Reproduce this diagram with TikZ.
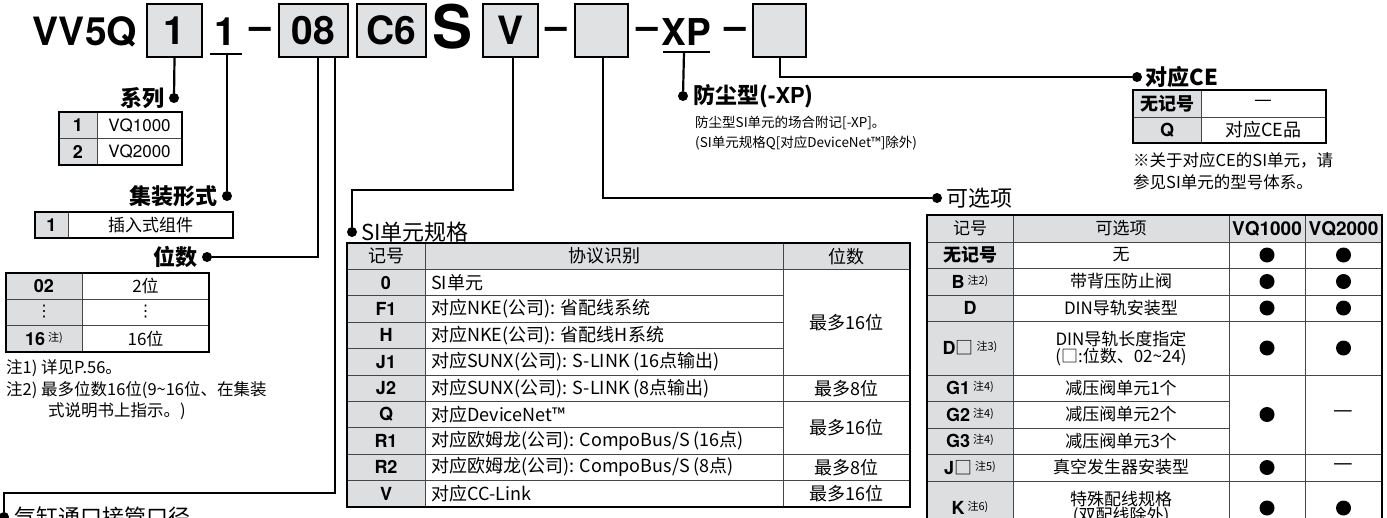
\documentclass[tikz,border=0pt]{standalone}
\usepackage{fontspec}
\setmainfont{Noto Sans CJK SC}
\newfontfamily\heros{TeX Gyre Heros}
\newfontfamily\dejavu{DejaVu Sans}
\usetikzlibrary{calc,positioning}
\definecolor{boxgray}{RGB}{224,225,227}
\definecolor{cellgray}{RGB}{221,222,224}
\definecolor{rulegray}{RGB}{70,70,70}
\newcommand{\fs}[1]{\fontsize{#1}{#1}\selectfont}
\newcommand{\note}[1]{\raisebox{4pt}{\normalfont\fs{11}#1}}

\begin{document}
\begin{tikzpicture}[x=1pt, y=-1pt,
    codebox/.style={draw=black, line width=2pt, fill=boxgray, minimum height=53, inner sep=0, font=\heros\bfseries\fs{39}},
    codetext/.style={inner sep=0, font=\heros\bfseries\fs{39}},
    title/.style={inner sep=0, font=\bfseries\fs{22}},
    link/.style={line width=2.2pt},
    dot/.style={circle, fill=black, inner sep=0, minimum size=10},
    cell/.style={inner sep=0, font=\fs{17}},
    codecell/.style={inner sep=0, font=\heros\bfseries\fs{18}},
    rule/.style={draw=rulegray, line width=1pt},
    frame/.style={draw=black, line width=1.6pt},
    bullet/.style={circle, fill=black, inner sep=0, minimum size=15},
    notetext/.style={inner sep=0, anchor=west, font=\fs{16.5}}]

    \useasboundingbox (0,0) rectangle (1387,517);

    % 型号代码一行
    \node[codetext] (vv5q) at (85,32) {VV5Q};
    \node[codebox, minimum width=55] (b1) at (174.5,30.5) {1};
    \node[codetext] (u1) at (225,32) {1};
    \node[codetext] (m1) at (260,33) {–};
    \node[codebox, minimum width=69] (b08) at (313.5,30.5) {08};
    \node[codebox, minimum width=69] (bC6) at (391.5,30.5) {C6};
    \node[codetext, font=\heros\bfseries\fs{60}] (sS) at (452.5,27) {S};
    \node[codebox, minimum width=55] (bV) at (510.5,30.5) {V};
    \node[codetext] (m2) at (556.5,33) {–};
    \node[codebox, minimum width=53] (bOpt) at (601.5,30.5) {};
    \node[codetext] (m3) at (647,33) {–};
    \node[codetext, font=\heros\bfseries\fs{37}] (xp) at (686.5,32) {XP};
    \node[codetext] (m4) at (735,33) {–};
    \node[codebox, minimum width=53] (bCE) at (779.5,30.5) {};

    % 下划线
    \coordinate (u1a) at (210,54);
    \coordinate (u1b) at (242,54);
    \coordinate (u1m) at (227,54);
    \draw[link] (u1a) -- (u1b);
    \coordinate (xpa) at (663,52);
    \coordinate (xpb) at (710,52);
    \coordinate (xpm) at (684,52);
    \draw[link] (xpa) -- (xpb);

    % 引出点与标题
    \node[dot] (dSeries) at (174,98) {};
    \node[title, left=4pt of dSeries] (tSeries) {系列};
    \node[dot] (dMani) at (227,196) {};
    \node[title, left=4pt of dMani] (tMani) {集装形式};
    \node[dot] (dStat) at (207,257) {};
    \node[title, left=4pt of dStat] (tStat) {位数};
    \node[dot] (dPort) at (4,517) {};
    \node[title, font=\fs{22}, right=5pt of dPort] (tPort) {气缸通口接管口径};
    \node[dot] (dSI) at (352,232) {};
    \node[title, font=\fs{22}, right=4pt of dSI] (tSI) {SI单元规格};
    \node[dot] (dXP) at (683,96) {};
    \node[title, right=5pt of dXP] (tXP) {防尘型({\heros -XP})};
    \node[dot] (dOpt) at (937,198) {};
    \node[title, font=\fs{22}, right=4pt of dOpt] (tOpt) {可选项};
    \node[dot] (dCE) at (1137,77) {};
    \node[title, right=3pt of dCE] (tCE) {对应CE};

    % 引出线
    \coordinate (cPort) at (4,493);
    \coordinate (cSI) at (352,190);
    \draw[link] (b1.south) -- (dSeries);
    \draw[link] (u1m) -- (dMani);
    \draw[link] ([xshift=4.5pt]b08.south) |- (dStat);
    \draw[link] ([xshift=21.5pt]b08.south) |- (cPort) -- (dPort);
    \draw[link] ([xshift=2.5pt]bV.south) |- (cSI) -- (dSI);
    \draw[link] ([xshift=1.5pt]bOpt.south) |- (dOpt);
    \draw[link] (xpm) -- (dXP);
    \draw[link] ([xshift=0.5pt]bCE.south) |- (dCE);

    % 防尘型说明
    \node[notetext, font=\fs{13.5}] (nx1) at (695,123) {防尘型SI单元的场合附记[-XP]。};
    \node[notetext, font=\fs{13.5}] (nx2) at (695,143) {(SI单元规格Q[对应DeviceNet™]除外)};

    % 系列
    \fill[cellgray] (59,112) rectangle (97,165);
    \draw[rule] (59,138) -- (182,138);
    \draw[rule] (97,112) -- (97,165);
    \draw[frame] (59,112) rectangle (182,165);
    \foreach \c/\t [count=\i] in {1/VQ1000, 2/VQ2000} {
        \node[codecell] (se-\i) at (78,{112+26.5*(\i-0.5)}) {\c};
        \node[cell, font=\heros\fs{17}] (set-\i) at (139.5,{112+26.5*(\i-0.5)}) {\t};
    }

    % 集装形式
    \fill[cellgray] (35,212) rectangle (68,238);
    \draw[rule] (68,212) -- (68,238);
    \draw[frame] (35,212) rectangle (233,238);
    \node[codecell] (ma-1) at (51.5,225) {1};
    \node[cell] (mat-1) at (150.5,225) {插入式组件};

    % 位数
    \fill[cellgray] (6,273) rectangle (82,352);
    \draw[rule] (6,299) -- (209,299);
    \draw[rule] (6,325) -- (209,325);
    \draw[rule] (82,273) -- (82,352);
    \draw[frame] (6,273) rectangle (209,352);
    \node[codecell] (st-1) at (44,286) {02};
    \node[cell] (stt-1) at (145.5,286) {2位};
    \node[cell, font=\dejavu\fs{16}] (st-2) at (44,312) {⋮};
    \node[cell, font=\dejavu\fs{16}] (stt-2) at (145.5,312) {⋮};
    \node[codecell] (st-3) at (44,338.5) {16\,\note{注)}};
    \node[cell] (stt-3) at (145.5,338.5) {16位};

    % 注
    \node[notetext] (n1) at (6,368) {注1) 详见P.56。};
    \node[notetext] (n2) at (6,390) {注2) 最多位数16位(9\textasciitilde16位、在集装};
    \node[notetext] (n3) at (48,411) {式说明书上指示。)};

    % SI单元规格
    \def\siRow{26.4}
    \fill[cellgray] (347,243) rectangle (910,{243+\siRow});
    \fill[cellgray] (347,243) rectangle (425,507);
    \foreach \i in {1,...,9}
        \draw[rule] (347,{243+\siRow*\i}) -- (783,{243+\siRow*\i});
    \foreach \i in {1,5,6,8,9}
        \draw[rule] (783,{243+\siRow*\i}) -- (910,{243+\siRow*\i});
    \draw[rule] (425,243) -- (425,507);
    \draw[rule] (783,243) -- (783,507);
    \draw[frame] (347,243) rectangle (910,507);
    \node[cell, font=\fs{18}] (sih-1) at (386,{243+\siRow/2}) {记号};
    \node[cell, font=\fs{18}] (sih-2) at (604,{243+\siRow/2}) {协议识别};
    \node[cell, font=\fs{18}] (sih-3) at (846.5,{243+\siRow/2}) {位数};
    \foreach \c/\t [count=\i] in {0/SI单元, F1/{对应NKE(公司): 省配线系统}, H/{对应NKE(公司): 省配线H系统},
        J1/{对应SUNX(公司): S-LINK (16点输出)}, J2/{对应SUNX(公司): S-LINK (8点输出)}, Q/对应DeviceNet™,
        R1/{对应欧姆龙(公司): CompoBus/S (16点)}, R2/{对应欧姆龙(公司): CompoBus/S (8点)}, V/对应CC-Link} {
        \node[codecell] (si-\i) at (386,{243+\siRow*(\i+0.5)}) {\c};
        \node[cell, font=\fs{18}, anchor=west] (sit-\i) at (431,{243+\siRow*(\i+0.5)}) {\t};
    }
    \foreach \r/\t [count=\i] in {3/最多16位, 5.5/最多8位, 7/最多16位, 8.5/最多8位, 9.5/最多16位}
        \node[cell, font=\fs{18}] (sin-\i) at (846.5,{243+\siRow*\r}) {\t};

    % 对应CE
    \fill[cellgray] (1133,90) rectangle (1201,143);
    \draw[rule] (1133,117) -- (1326,117);
    \draw[rule] (1201,90) -- (1201,143);
    \draw[frame] (1133,90) rectangle (1326,143);
    \node[cell, font=\bfseries\fs{18}] (ce-1) at (1167,103.5) {无记号};
    \node[cell, font=\fs{20}] (cet-1) at (1263.5,103.5) {—};
    \node[codecell] (ce-2) at (1167,130) {Q};
    \node[cell, font=\fs{18}] (cet-2) at (1263.5,130) {对应CE品};
    \node[notetext] (n4) at (1133,160) {※关于对应CE的SI单元，请};
    \node[notetext] (n5) at (1133,182) {参见SI单元的型号体系。};

    % 可选项
    \fill[cellgray] (927,215) rectangle (1382,242);
    \fill[cellgray] (927,215) rectangle (1013,535);
    \foreach \y in {242,268,295,321,375,454,481}
        \draw[rule] (927,\y) -- (1382,\y);
    \foreach \y in {401,428}
        \draw[rule] (927,\y) -- (1229,\y);
    \foreach \x in {1013,1229,1305}
        \draw[rule] (\x,215) -- (\x,535);
    \draw[frame] (927,215) rectangle (1382,535);
    \node[cell] (oh-1) at (970,228.5) {记号};
    \node[cell] (oh-2) at (1121,228.5) {可选项};
    \node[codecell, font=\heros\bfseries\fs{19}] (oh-3) at (1267,228.5) {VQ1000};
    \node[codecell, font=\heros\bfseries\fs{19}] (oh-4) at (1343.5,228.5) {VQ2000};
    \foreach \y/\c/\t [count=\i] in {
        255/{\normalfont\bfseries 无记号}/无,
        281.5/{B\,\note{注2)}}/带背压防止阀,
        308/D/DIN导轨安装型,
        348/{D{\normalfont □}\,\note{注3)}}/{DIN导轨长度指定\\(□:位数、02\textasciitilde24)},
        388/{G1\,\note{注4)}}/减压阀单元1个,
        414.5/{G2\,\note{注4)}}/减压阀单元2个,
        441/{G3\,\note{注4)}}/减压阀单元3个,
        467.5/{J{\normalfont □}\,\note{注5)}}/真空发生器安装型,
        508/{K\,\note{注6)}}/{特殊配线规格\\(双配线除外)}} {
        \node[codecell] (oc-\i) at (970,\y) {\c};
        \node[cell, align=center] (ot-\i) at (1121,\y) {\t};
    }
    \foreach \x/\y [count=\i] in {1267/255, 1343.5/255, 1267/281.5, 1343.5/281.5, 1267/308, 1343.5/308,
        1267/348, 1343.5/348, 1267/414.5, 1267/467.5, 1267/508, 1343.5/508}
        \node[bullet] (ob-\i) at (\x,\y) {};
    \node[cell, font=\fs{22}] (od-1) at (1343.5,414.5) {—};
    \node[cell, font=\fs{22}] (od-2) at (1343.5,467.5) {—};
\end{tikzpicture}
\end{document}
